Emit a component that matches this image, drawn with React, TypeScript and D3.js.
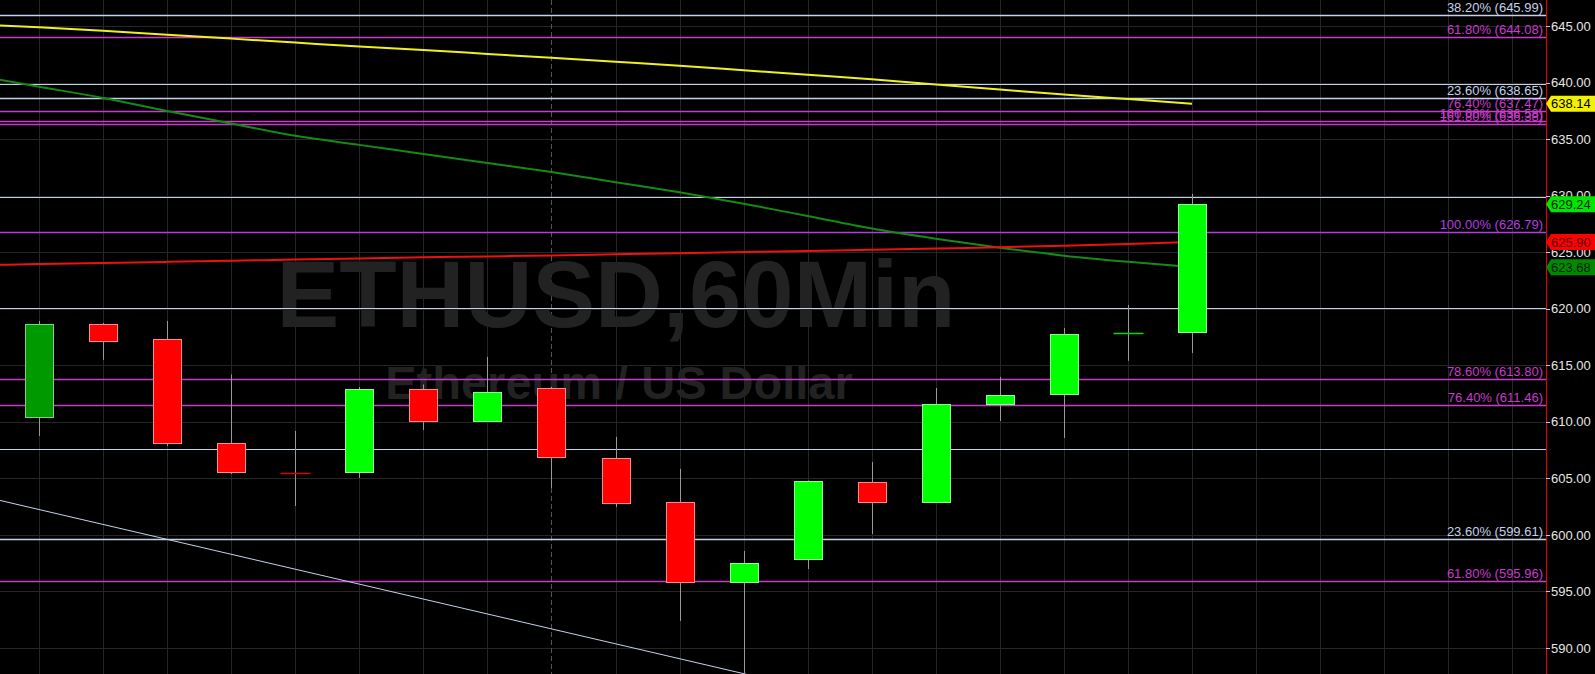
import React from 'react';
import * as d3 from 'd3';

// chart data
const opens = [610.43, 618.66, 617.33, 608.13, 605.5, 605.56, 612.9, 610.07, 613.0, 606.8, 602.91, 595.83, 597.86, 604.68, 602.95, 611.58, 612.46, 617.8, 617.95];
const highs = [618.92, 618.75, 618.92, 614.19, 609.19, 613.08, 613.3, 615.74, 613.1, 608.66, 605.83, 598.57, 604.8, 606.45, 612.99, 613.97, 618.3, 620.34, 630.16];
const lows = [608.75, 615.48, 607.86, 605.39, 602.55, 605.03, 609.28, 610.07, 604.15, 602.46, 592.38, 587.3, 596.98, 600.07, 602.9, 610.07, 608.57, 615.4, 616.09];
const closes = [618.66, 617.16, 608.13, 605.56, 605.45, 612.9, 610.07, 612.64, 606.89, 602.82, 595.83, 597.51, 604.76, 602.91, 611.58, 612.38, 617.77, 617.9, 629.24];
const darkCandles = [0];

// moving averages, index -1 .. 18
const maYellow = [645.15, 644.9, 644.6, 644.25, 643.9, 643.55, 643.2, 642.9, 642.55, 642.2, 641.85, 641.5, 641.1, 640.7, 640.3, 639.85, 639.4, 638.95, 638.55, 638.14];
const maGreen = [640.65, 639.65, 638.65, 637.5, 636.4, 635.3, 634.5, 633.7, 632.9, 632.1, 631.2, 630.3, 629.3, 628.2, 627.1, 626.2, 625.4, 624.7, 624.15, 623.68];
const maRed = [623.85, 623.95, 624.05, 624.15, 624.25, 624.35, 624.45, 624.55, 624.63, 624.72, 624.82, 624.92, 625.02, 625.12, 625.22, 625.33, 625.45, 625.58, 625.72, 625.9];

// fibonacci levels
const fibLight = [645.99, 638.65, 599.61];
const fibLightText = ['38.20% (645.99)', '23.60% (638.65)', '23.60% (599.61)'];
const fibMagenta = [644.08, 637.47, 636.58, 636.38, 613.8, 611.46, 595.96];
const fibMagentaText = ['61.80% (644.08)', '76.40% (637.47)', '100.00% (636.58)', '161.80% (636.38)', '78.60% (613.80)', '76.40% (611.46)', '61.80% (595.96)'];
const fibViolet = [626.79];
const fibVioletText = ['100.00% (626.79)'];
const plainLevels = [639.9, 629.85, 620.05, 607.55];

// trend line (candle index, price)
const trendIdx = [-1, 12];
const trendVal = [603.56, 586.4];

const yTicks = [590, 595, 600, 605, 610, 615, 620, 625, 630, 635, 640, 645];
const tagValues = [638.14, 629.24, 625.9, 623.68];
const tagFills = ['#f2f200', '#00e600', '#ff0000', '#008a00'];
const tagInk = ['#000000', '#002200', '#550000', '#001a00'];

const W = 1595;
const H = 674;
const AX = 1546;
const FONT = '"Liberation Sans", Arial, sans-serif';

export default function App() {
  const y = d3.scaleLinear().domain([595.96, 645.99]).range([580.5, 15]);
  const x = d3.scaleLinear().domain([0, 18]).range([39, 1192]);
  const px = (v: number) => Math.round(y(v)) + 0.5;
  const bw = 28;

  const gridIdx = d3.range(0, 24);
  const maIdx = d3.range(-1, 19);
  const maLine = (vals: number[]) =>
    d3.line<number>().x((_, i) => x(maIdx[i])).y(d => y(d)).curve(d3.curveMonotoneX)(vals) || '';

  const trend = d3.line<number>().x((_, i) => x(trendIdx[i])).y(d => y(d))(trendVal) || '';

  const fibLabel = (v: number, t: string, c: string, key: string) => (
    <g key={key}>
      <line x1={0} x2={AX} y1={px(v)} y2={px(v)} stroke={c} strokeOpacity={0.25} strokeWidth={3} />
      <line x1={0} x2={AX} y1={px(v)} y2={px(v)} stroke={c} strokeWidth={1} />
      <text x={AX - 3} y={px(v) - 4} textAnchor="end" fill={c} fontSize={13} fontFamily={FONT}>{t}</text>
    </g>
  );

  return (
    <svg width={W} height={H} style={{ position: 'fixed', left: 0, top: 0, display: 'block', background: '#000' }}>
      <defs>
        <clipPath id="plot"><rect x={0} y={0} width={AX} height={H} /></clipPath>
      </defs>
      <rect width={W} height={H} fill="#000" />

      {/* grid */}
      {yTicks.map(t => (
        <line key={'h' + t} x1={0} x2={AX} y1={px(t)} y2={px(t)} stroke="#262626" />
      ))}
      {gridIdx.map(i => (
        <line key={'v' + i} x1={Math.round(x(i)) + 0.5} x2={Math.round(x(i)) + 0.5} y1={0} y2={H}
          stroke={i === 8 ? '#555555' : '#262626'} strokeDasharray={i === 8 ? '5,3' : undefined} />
      ))}

      {/* watermark */}
      <text x={616} y={327} textAnchor="middle" fill="#222222" fontSize={94} fontWeight="bold" fontFamily={FONT}>ETHUSD,60Min</text>
      <text x={619} y={399} textAnchor="middle" fill="#222222" fontSize={47} fontWeight="bold" fontFamily={FONT}>Ethereum / US Dollar</text>

      <g clipPath="url(#plot)">
        {/* plain horizontal levels */}
        {plainLevels.map(v => (
          <line key={'p' + v} x1={0} x2={AX} y1={px(v)} y2={px(v)} stroke="#c4d2ea" />
        ))}
        {fibLight.map((v, i) => fibLabel(v, fibLightText[i], '#c4d2ea', 'fl' + i))}
        {fibMagenta.map((v, i) => fibLabel(v, fibMagentaText[i], '#c83ccc', 'fm' + i))}
        {fibViolet.map((v, i) => fibLabel(v, fibVioletText[i], '#b43ce0', 'fv' + i))}

        <path d={trend} fill="none" stroke="#c4d2ea" strokeWidth={1} />

        {/* moving averages */}
        <path d={maLine(maYellow)} fill="none" stroke="#f0f020" strokeWidth={2} />
        <path d={maLine(maGreen)} fill="none" stroke="#158a15" strokeWidth={2} />
        <path d={maLine(maRed)} fill="none" stroke="#ee1111" strokeWidth={2} />

        {/* candles */}
        {opens.map((o, i) => {
          const c = closes[i];
          const up = c >= o;
          const cx = Math.round(x(i)) + 0.5;
          const top = y(Math.max(o, c));
          const bot = y(Math.min(o, c));
          const dark = darkCandles.includes(i);
          const fill = dark ? '#009a00' : up ? '#00ff00' : '#ff0000';
          const edge = dark ? '#7fd07f' : up ? '#8cff8c' : '#ff8c8c';
          const doji = Math.abs(bot - top) < 2;
          return (
            <g key={'c' + i}>
              <line x1={cx} x2={cx} y1={y(highs[i])} y2={y(lows[i])} stroke="#9a9a9a" />
              {doji ? (
                <line x1={cx - 15} x2={cx + 15} y1={Math.round(top) + 0.5} y2={Math.round(top) + 0.5} stroke={up ? '#00dd00' : '#dd0000'} strokeWidth={1.5} />
              ) : (
                <rect x={cx - bw / 2} y={Math.round(top) + 0.5} width={bw} height={Math.round(bot - top)} fill={fill} stroke={edge} />
              )}
            </g>
          );
        })}
      </g>

      {/* price axis */}
      <line x1={AX + 0.5} x2={AX + 0.5} y1={0} y2={H} stroke="#ee0000" />
      {yTicks.map(t => (
        <g key={'t' + t}>
          <line x1={AX} x2={AX + 4} y1={px(t)} y2={px(t)} stroke="#cccccc" />
          <text x={AX + 5} y={y(t)} dy="0.36em" fill="#e6e6e6" fontSize={13} fontFamily={FONT}>{t.toFixed(2)}</text>
        </g>
      ))}
      {tagValues.map((v, i) => {
        const cy = y(v);
        return (
          <g key={'tag' + i}>
            <path d={`M${AX},${cy} L${AX + 5},${cy - 8} L${W},${cy - 8} L${W},${cy + 8} L${AX + 5},${cy + 8} Z`} fill={tagFills[i]} />
            <text x={AX + 5} y={cy} dy="0.36em" fill={tagInk[i]} fontSize={13} fontFamily={FONT}>{v.toFixed(2)}</text>
          </g>
        );
      })}
    </svg>
  );
}
